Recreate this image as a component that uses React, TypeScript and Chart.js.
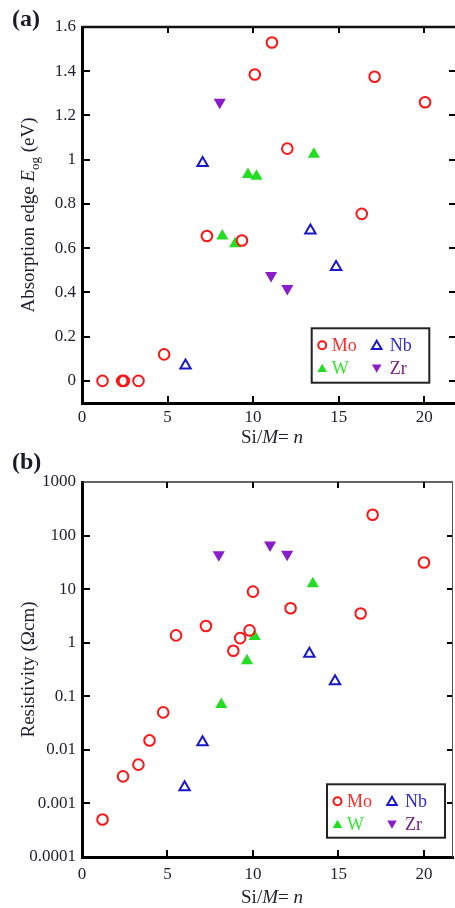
import React, { useEffect, useRef } from 'react';
import { Chart, registerables } from 'chart.js';

Chart.register(...registerables);

// ---------- data ----------
const seriesNames = ['Mo', 'Nb', 'W', 'Zr'];

const xTickValues = [0, 5, 10, 15, 20];
const edgeTickValues = [0, 0.2, 0.4, 0.6, 0.8, 1, 1.2, 1.4, 1.6];
const edgeTickLabels = ['0', '0.2', '0.4', '0.6', '0.8', '1', '1.2', '1.4', '1.6'];
const resTickValues = [0.0001, 0.001, 0.01, 0.1, 1, 10, 100, 1000];
const resTickLabels = ['0.0001', '0.001', '0.01', '0.1', '1', '10', '100', '1000'];

// (a) absorption edge (eV)
const moEdgeN = [1.2, 2.35, 2.45, 3.3, 4.8, 7.3, 9.35, 10.1, 11.1, 12.0, 16.35, 17.1, 20.05];
const moEdgeE = [0, 0, 0, 0, 0.12, 0.655, 0.635, 1.385, 1.53, 1.05, 0.755, 1.375, 1.26];
const nbEdgeN = [6.05, 7.05, 13.35, 14.85];
const nbEdgeE = [0.07, 0.985, 0.68, 0.515];
const wEdgeN = [8.2, 8.95, 9.7, 10.2, 13.55];
const wEdgeE = [0.655, 0.62, 0.933, 0.925, 1.025];
const zrEdgeN = [8.05, 11.05, 12.0];
const zrEdgeE = [1.26, 0.477, 0.418];

// (b) resistivity (Ohm cm)
const moResN = [1.2, 2.4, 3.3, 3.95, 4.75, 5.5, 7.25, 8.85, 9.25, 9.8, 10.0, 12.2, 16.3, 17.0, 20.0];
const moResR = [0.0005, 0.0032, 0.0053, 0.015, 0.05, 1.37, 2.05, 0.71, 1.22, 1.7, 9.0, 4.4, 3.5, 245, 31.5];
const nbResN = [6.0, 7.05, 13.3, 14.8];
const nbResR = [0.002, 0.0138, 0.62, 0.19];
const wResN = [8.15, 9.65, 10.1, 13.5];
const wResR = [0.07, 0.46, 1.31, 12.6];
const zrResN = [8.0, 11.0, 12.0];
const zrResR = [44, 67, 45];

// ---------- styles ----------
const SERIF = '"Liberation Serif", "Times New Roman", serif';
const TICK_COLOR = '#1e1e30';
const markerColors = ['#ff1414', '#1818c8', '#22dd22', '#8a1ccc'];
const legendTextColors = ['#ff2a2a', '#2a2ad0', '#30e830', '#7a1a8a'];

const fnt = (size: number, italic = false, bold = false) =>
  `${italic ? 'italic ' : ''}${bold ? 'bold ' : ''}${size}px ${SERIF}`;

type Part = { text: string; italic?: boolean; sub?: boolean };

function drawRich(ctx: CanvasRenderingContext2D, parts: Part[], size: number, subSize: number, cx: number, y: number) {
  const widths = parts.map((p) => {
    ctx.font = fnt(p.sub ? subSize : size, p.italic);
    return ctx.measureText(p.text).width;
  });
  const total = widths.reduce((s, w) => s + w, 0);
  let x = cx - total / 2;
  ctx.textAlign = 'left';
  ctx.textBaseline = 'alphabetic';
  parts.forEach((p, i) => {
    ctx.font = fnt(p.sub ? subSize : size, p.italic);
    ctx.fillText(p.text, x, y + (p.sub ? size * 0.25 : 0));
    x += widths[i];
  });
}

function drawMarker(ctx: CanvasRenderingContext2D, style: string, rotation: number, x: number, y: number, r: number, fill: string, stroke: string, lw: number) {
  ctx.beginPath();
  if (style === 'circle') {
    ctx.arc(x, y, r, 0, Math.PI * 2);
  } else {
    let rad = (rotation * Math.PI) / 180;
    for (let k = 0; k < 3; k++) {
      const px = x + Math.sin(rad) * r;
      const py = y - Math.cos(rad) * r;
      if (k === 0) ctx.moveTo(px, py);
      else ctx.lineTo(px, py);
      rad += (2 * Math.PI) / 3;
    }
    ctx.closePath();
  }
  if (fill && fill !== 'transparent') {
    ctx.fillStyle = fill;
    ctx.fill();
  }
  if (lw > 0) {
    ctx.strokeStyle = stroke;
    ctx.lineWidth = lw;
    ctx.stroke();
  }
}

const decorPlugin = {
  id: 'decor',
  afterDraw(chart: any, _args: any, opts: any) {
    const { ctx, chartArea: a, scales } = chart;
    const xs = scales.x;
    const ys = scales.y;
    ctx.save();
    // frame: top and right
    ctx.strokeStyle = opts.topColor;
    ctx.lineWidth = opts.topWidth;
    ctx.beginPath();
    ctx.moveTo(a.left, a.top);
    ctx.lineTo(a.right, a.top);
    ctx.stroke();
    if (opts.rightWidth > 0) {
      ctx.strokeStyle = opts.rightColor;
      ctx.lineWidth = opts.rightWidth;
      ctx.beginPath();
      ctx.moveTo(a.right - 0.5, a.top);
      ctx.lineTo(a.right - 0.5, a.bottom);
      ctx.stroke();
    }
    // inward ticks
    ctx.strokeStyle = '#000';
    ctx.lineWidth = 2;
    ctx.beginPath();
    xs.ticks.forEach((t: any) => {
      const px = Math.round(xs.getPixelForValue(t.value));
      if (px <= a.left + 2 || px >= a.right - 2) return;
      ctx.moveTo(px, a.bottom);
      ctx.lineTo(px, a.bottom - 7);
      ctx.moveTo(px, a.top);
      ctx.lineTo(px, a.top + 6);
    });
    ys.ticks.forEach((t: any) => {
      const py = Math.round(ys.getPixelForValue(t.value));
      if (py <= a.top + 2 || py >= a.bottom - 2) return;
      ctx.moveTo(a.left, py);
      ctx.lineTo(a.left + 8, py);
      ctx.moveTo(a.right - (opts.rightWidth > 0 ? 1 : 0), py);
      ctx.lineTo(a.right - 6, py);
    });
    ctx.stroke();

    // panel label
    ctx.fillStyle = '#1a1a2a';
    ctx.font = fnt(24, false, true);
    ctx.textAlign = 'left';
    ctx.textBaseline = 'alphabetic';
    ctx.fillText(opts.panel, 12, opts.panelY);

    // axis titles
    ctx.fillStyle = '#1e1e2e';
    ctx.save();
    ctx.translate(opts.yTitleX, (a.top + a.bottom) / 2);
    ctx.rotate(-Math.PI / 2);
    drawRich(ctx, opts.yTitle, 19, 13, 0, 0);
    ctx.restore();
    drawRich(ctx, opts.xTitle, 19, 13, opts.xTitleCX, opts.xTitleY);

    // legend
    const lg = opts.legend;
    const bx = a.right - lg.right - lg.w;
    const by = a.bottom - lg.bottom - lg.h;
    ctx.fillStyle = '#fff';
    ctx.fillRect(bx, by, lg.w, lg.h);
    ctx.strokeStyle = '#222';
    ctx.lineWidth = 2;
    ctx.strokeRect(bx, by, lg.w, lg.h);
    const colMarker = [10.5, 65];
    const colText = [20, 78];
    const rowY = [17, 40];
    chart.data.datasets.forEach((ds: any, i: number) => {
      const col = i % 2;
      const row = Math.floor(i / 2);
      const mx = bx + colMarker[col];
      const my = by + rowY[row];
      const isCircle = ds.pointStyle === 'circle';
      drawMarker(
        ctx,
        ds.pointStyle,
        ds.pointRotation || 0,
        mx,
        my + (isCircle ? 0 : ds.pointRotation ? -1 : 1),
        isCircle ? 4 : 5.5,
        ds.pointBackgroundColor,
        ds.pointBorderColor,
        ds.pointBorderWidth
      );
      ctx.fillStyle = legendTextColors[i];
      ctx.font = fnt(18);
      ctx.textAlign = 'left';
      ctx.textBaseline = 'middle';
      ctx.fillText(ds.label, bx + colText[col], my + 1);
    });
    ctx.restore();
  },
};

const toPts = (xs: number[], ys: number[]) => xs.map((x, i) => ({ x, y: ys[i] }));

function makeDatasets(sets: Array<[number[], number[]]>) {
  const styles = [
    { pointStyle: 'circle', pointRadius: 5.3, pointBorderWidth: 2, fill: 'transparent', rot: 0 },
    { pointStyle: 'triangle', pointRadius: 6, pointBorderWidth: 2, fill: 'transparent', rot: 0 },
    { pointStyle: 'triangle', pointRadius: 7, pointBorderWidth: 0, fill: 'fill', rot: 0 },
    { pointStyle: 'triangle', pointRadius: 7, pointBorderWidth: 0, fill: 'fill', rot: 180 },
  ];
  return sets.map(([xs, ys], i) => ({
    label: seriesNames[i],
    data: toPts(xs, ys),
    pointStyle: styles[i].pointStyle,
    pointRadius: styles[i].pointRadius,
    pointBorderWidth: styles[i].pointBorderWidth,
    pointBorderColor: markerColors[i],
    pointBackgroundColor: styles[i].fill === 'fill' ? markerColors[i] : 'transparent',
    pointRotation: styles[i].rot,
    showLine: false,
  }));
}

function baseXScale(max: number, height: number, pad: number) {
  return {
    type: 'linear',
    min: 0,
    max,
    afterBuildTicks: (s: any) => {
      s.ticks = xTickValues.map((v) => ({ value: v }));
    },
    afterFit: (s: any) => {
      s.height = height;
      s.paddingLeft = 0;
      s.paddingRight = 0;
    },
    grid: { display: false, drawTicks: false },
    border: { display: true, width: 3, color: '#000' },
    ticks: {
      autoSkip: false,
      maxRotation: 0,
      padding: pad,
      color: TICK_COLOR,
      font: { family: SERIF, size: 17 },
      callback: (v: any) => String(v),
    },
  };
}

function PanelA() {
  const ref = useRef<HTMLCanvasElement>(null);
  useEffect(() => {
    const chart = new Chart(ref.current!, {
      type: 'scatter',
      data: {
        datasets: makeDatasets([
          [moEdgeN, moEdgeE],
          [nbEdgeN, nbEdgeE],
          [wEdgeN, wEdgeE],
          [zrEdgeN, zrEdgeE],
        ]) as any,
      },
      options: {
        animation: false,
        responsive: false,
        layout: { autoPadding: false, padding: { top: 27, right: 0, left: 0, bottom: 0 } },
        scales: {
          x: baseXScale(21.8, 47, 4) as any,
          y: {
            type: 'linear',
            min: -0.1,
            max: 1.6,
            afterBuildTicks: (s: any) => {
              s.ticks = edgeTickValues.map((v) => ({ value: v }));
            },
            afterFit: (s: any) => {
              s.width = 82;
            },
            grid: { display: false, drawTicks: false },
            border: { display: true, width: 3, color: '#000' },
            ticks: {
              autoSkip: false,
              padding: 6,
              color: TICK_COLOR,
              font: { family: SERIF, size: 17 },
              callback: (_v: any, i: number) => edgeTickLabels[i],
            },
          },
        },
        plugins: {
          legend: { display: false },
          tooltip: { enabled: false },
          decor: {
            panel: '(a)',
            panelY: 26,
            topColor: '#111',
            topWidth: 2.5,
            rightWidth: 0,
            rightColor: '#666',
            yTitleX: 34,
            yTitle: [
              { text: 'Absorption edge ' },
              { text: 'E', italic: true },
              { text: 'og', sub: true },
              { text: ' (eV)' },
            ],
            xTitle: [{ text: 'Si/' }, { text: 'M', italic: true }, { text: '= ' }, { text: 'n', italic: true }],
            xTitleCX: 272,
            xTitleY: 443,
            legend: { right: 25.7, bottom: 20.3, w: 117.6, h: 54.4 },
          },
        } as any,
      },
      plugins: [decorPlugin as any],
    });
    return () => chart.destroy();
  }, []);
  return <canvas ref={ref} width={455} height={450} style={{ display: 'block' }} />;
}

function PanelB() {
  const ref = useRef<HTMLCanvasElement>(null);
  useEffect(() => {
    const chart = new Chart(ref.current!, {
      type: 'scatter',
      data: {
        datasets: makeDatasets([
          [moResN, moResR],
          [nbResN, nbResR],
          [wResN, wResR],
          [zrResN, zrResR],
        ]) as any,
      },
      options: {
        animation: false,
        responsive: false,
        layout: { autoPadding: false, padding: { top: 32, right: 2, left: 0, bottom: 0 } },
        scales: {
          x: baseXScale(21.7, 51, 7) as any,
          y: {
            type: 'logarithmic',
            min: 0.0001,
            max: 1000,
            afterBuildTicks: (s: any) => {
              s.ticks = resTickValues.map((v) => ({ value: v }));
            },
            afterFit: (s: any) => {
              s.width = 82;
            },
            grid: { display: false, drawTicks: false },
            border: { display: true, width: 3, color: '#000' },
            ticks: {
              autoSkip: false,
              padding: 6,
              color: TICK_COLOR,
              font: { family: SERIF, size: 17 },
              callback: (_v: any, i: number) => resTickLabels[i],
            },
          },
        },
        plugins: {
          legend: { display: false },
          tooltip: { enabled: false },
          decor: {
            panel: '(b)',
            panelY: 19,
            topColor: '#333',
            topWidth: 1.5,
            rightWidth: 1,
            rightColor: '#555',
            yTitleX: 34,
            yTitle: [{ text: 'Resistivity (Ωcm)' }],
            xTitle: [{ text: 'Si/' }, { text: 'M', italic: true }, { text: '= ' }, { text: 'n', italic: true }],
            xTitleCX: 272,
            xTitleY: 453,
            legend: { right: 8, bottom: 19.3, w: 118, h: 53.4 },
          },
        } as any,
      },
      plugins: [decorPlugin as any],
    });
    return () => chart.destroy();
  }, []);
  return <canvas ref={ref} width={455} height={458} style={{ display: 'block' }} />;
}

export default function App() {
  return (
    <div style={{ position: 'absolute', left: 0, top: 0, width: 455, height: 908, background: '#fff', overflow: 'hidden' }}>
      <PanelA />
      <PanelB />
    </div>
  );
}
